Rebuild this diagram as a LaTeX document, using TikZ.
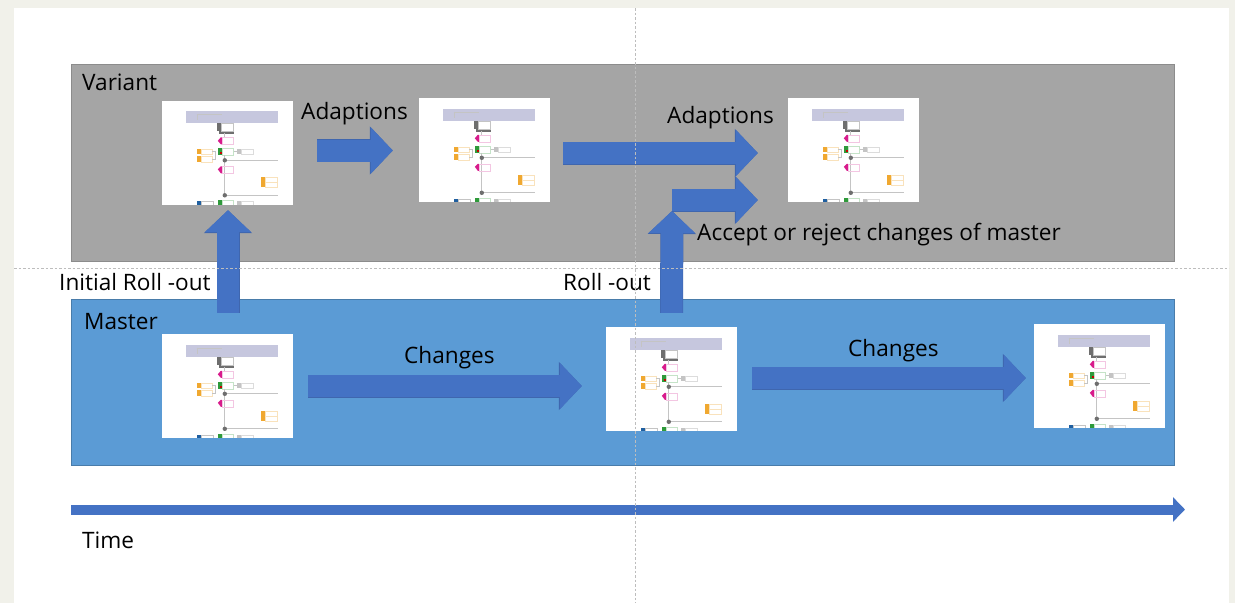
\documentclass[tikz,border=0pt]{standalone}
\usepackage{fontspec}
\setmainfont{Open Sans}
\usepackage{tikz}
\usetikzlibrary{arrows.meta}
\definecolor{pagegray}{HTML}{F1F1EA}
\definecolor{bandgray}{HTML}{A5A5A5}
\definecolor{bandblue}{HTML}{5B9BD5}
\definecolor{arrowblue}{HTML}{4472C4}
\definecolor{arrowedge}{HTML}{3F66AE}
\definecolor{gridgray}{HTML}{BDBDBD}
\definecolor{headblue}{HTML}{C6C7DE}
\definecolor{pipegray}{HTML}{C4C4C4}
\definecolor{darkgray}{HTML}{6E6E6E}
\definecolor{pink}{HTML}{D81B8C}
\definecolor{lightpink}{HTML}{F3C6E2}
\definecolor{green}{HTML}{2E9A3A}
\definecolor{lightgreen}{HTML}{C5E3C8}
\definecolor{orange}{HTML}{F0A830}
\definecolor{lightorange}{HTML}{F9E2BC}
\definecolor{navy}{HTML}{1F5FA0}
\tikzset{
  band/.style={draw,line width=0.8pt,minimum width=1103pt,inner sep=0pt},
  sheet/.style={fill=white,minimum width=131pt,minimum height=104pt,inner sep=0pt},
  caption/.style={anchor=base west,inner sep=0pt,font=\fontsize{22.6pt}{26pt}\selectfont,text=black},
  blockarrow/.style={draw=arrowblue,line width=22pt,-{Triangle[length=22pt,width=45pt]},
    preaction={draw=arrowedge,line width=23pt,-{Triangle[length=23pt,width=47pt]}}},
  timearrow/.style={draw=arrowblue,line width=10pt,-{Triangle[length=12pt,width=24pt]}},
  grid/.style={draw=gridgray,line width=0.7pt,dash pattern=on 2.5pt off 2pt},
  pics/flowsheet/.style={code={
    \begin{scope}
      \clip (0,0) rectangle (131,104);
      \fill[headblue] (24,11) rectangle (116,23);
      \draw[pipegray,line width=0.5pt] (35,14) -- (60,14);
      \draw[pipegray,line width=0.5pt] (35,14) -- (35,20);
      \draw[darkgray,line width=2pt] (58,30) -- (58,33) -- (71,33) -- (71,31);
      \fill[darkgray] (55,23) rectangle (59,31);
      \draw[pipegray,line width=0.4pt] (59,23) rectangle (71,31);
      \draw[pipegray,line width=0.8pt] (63,33) -- (63,37);
      \fill[pink] (56,40.5) -- (59,37) -- (60,37) -- (60,44) -- (59,44) -- cycle;
      \draw[lightpink,line width=0.5pt] (60,37) rectangle (71,44);
      \fill[green] (56,48) rectangle (60,55);
      \fill[red!80!black] (58,52) rectangle (60,54);
      \draw[lightgreen,line width=0.5pt] (60,48) rectangle (71,55);
      \fill[orange] (35,49) rectangle (39,54);
      \draw[lightorange,line width=0.5pt] (39,49) rectangle (50,54);
      \fill[orange] (35,56) rectangle (39,62);
      \draw[lightorange,line width=0.5pt] (39,56) rectangle (50,62);
      \draw[pipegray,line width=0.5pt] (50,51) -- (53,51) -- (53,59) -- (50,59);
      \draw[pipegray,line width=0.5pt] (72,51) -- (75,51);
      \fill[pipegray] (75,49) rectangle (79,54);
      \draw[pipegray!60,line width=0.5pt] (79,49) rectangle (91,54);
      \draw[pipegray,line width=0.8pt] (63,55) -- (63,95);
      \draw[pipegray,line width=1pt] (63,60) -- (116,60);
      \fill[darkgray] (63,60) circle (2.2pt);
      \fill[pink] (56,69) -- (59,66) -- (60,66) -- (60,73) -- (59,73) -- cycle;
      \draw[lightpink,line width=0.5pt] (60,66) rectangle (71,73);
      \fill[orange] (99,77) rectangle (103,87);
      \draw[lightorange,line width=0.5pt] (103,77) rectangle (115,82);
      \draw[lightorange,line width=0.5pt] (103,82) rectangle (115,87);
      \draw[pipegray,line width=1pt] (63,95) -- (116,95);
      \fill[darkgray] (63,95) circle (2.2pt);
      \fill[navy] (35,101) rectangle (39,105);
      \draw[pipegray,line width=0.4pt] (39,101) rectangle (51,106);
      \fill[green] (56,100) rectangle (60,105);
      \draw[lightgreen,line width=0.5pt] (60,100) rectangle (71,106);
      \fill[pipegray] (75,101) rectangle (79,105);
      \draw[pipegray!60,line width=0.5pt] (79,101) rectangle (91,106);
    \end{scope}
  }}
}
\begin{document}
\begin{tikzpicture}[x=1pt,y=-1pt]
  \fill[pagegray] (0,0) rectangle (1235,603);
  \fill[white] (14,8) rectangle (1229,603);

  \node[band,fill=bandgray,draw=bandgray!85!black,minimum height=197pt] (variant) at (622.5,162.5){};
  \node[band,fill=bandblue,draw=bandblue!80!black,minimum height=166pt] (master) at (622.5,382){};

  \node[sheet] (v1) at (227.5,152.5){};
  \node[sheet] (v2) at (484.5,150){};
  \node[sheet] (v3) at (853.5,150){};
  \node[sheet] (m1) at (227.5,386){};
  \node[sheet] (m2) at (671.5,379){};
  \node[sheet] (m3) at (1099.5,376){};
  \pic at (v1.north west) {flowsheet};
  \pic at (v2.north west) {flowsheet};
  \pic at (v3.north west) {flowsheet};
  \pic at (m1.north west) {flowsheet};
  \pic at (m2.north west) {flowsheet};
  \pic at (m3.north west) {flowsheet};

  \coordinate (rolltip) at (672,211);
  \coordinate (rollin) at (672,200);
  \coordinate (timestart) at (71,509.5);
  \coordinate (timeend) at (1185,509.5);

  \draw[blockarrow] ([xshift=0.5pt,yshift=-108pt]v1.south) -- ([xshift=0.5pt,yshift=-5.5pt]v1.south);
  \draw[blockarrow] ([xshift=24pt,yshift=2pt]v1.east) -- ([xshift=-26pt,yshift=-0.5pt]v2.west);
  \draw[blockarrow] ([xshift=13pt,yshift=-3pt]v2.east) -- ([xshift=-30pt,yshift=-3pt]v3.west);
  \draw[blockarrow] ([yshift=14pt]m2.north) -- (rolltip);
  \draw[blockarrow] (rollin) -- ([xshift=-30pt,yshift=-50pt]v3.west);
  \draw[blockarrow] ([xshift=15pt]m1.east) -- ([xshift=-24pt,yshift=-7pt]m2.west);
  \draw[blockarrow] ([xshift=15pt,yshift=1pt]m2.east) -- ([xshift=-8pt,yshift=-2pt]m3.west);
  \draw[timearrow] (timestart) -- (timeend);

  \node[caption] (variantlabel) at (82,90){Variant};
  \node[caption] (adapt1) at (301,119){Adaptions};
  \node[caption] (adapt2) at (667,123){Adaptions};
  \node[caption] (accept) at (697,240){Accept or reject changes of master};
  \node[caption] (initial) at (59,290){Initial Roll -out};
  \node[caption] (rollout) at (563,290){Roll -out};
  \node[caption] (masterlabel) at (84,329){Master};
  \node[caption] (change1) at (404,363){Changes};
  \node[caption] (change2) at (848,356){Changes};
  \node[caption] (timelabel) at (82,548){Time};

  \coordinate (gridtop) at (635.5,8);
  \coordinate (gridbottom) at (635.5,603);
  \coordinate (gridleft) at (14,268);
  \coordinate (gridright) at (1229,268);
  \draw[grid] (gridtop) -- (gridbottom);
  \draw[grid] (gridleft) -- (gridright);

  \useasboundingbox (0,0) rectangle (1235,603);
\end{tikzpicture}
\end{document}
